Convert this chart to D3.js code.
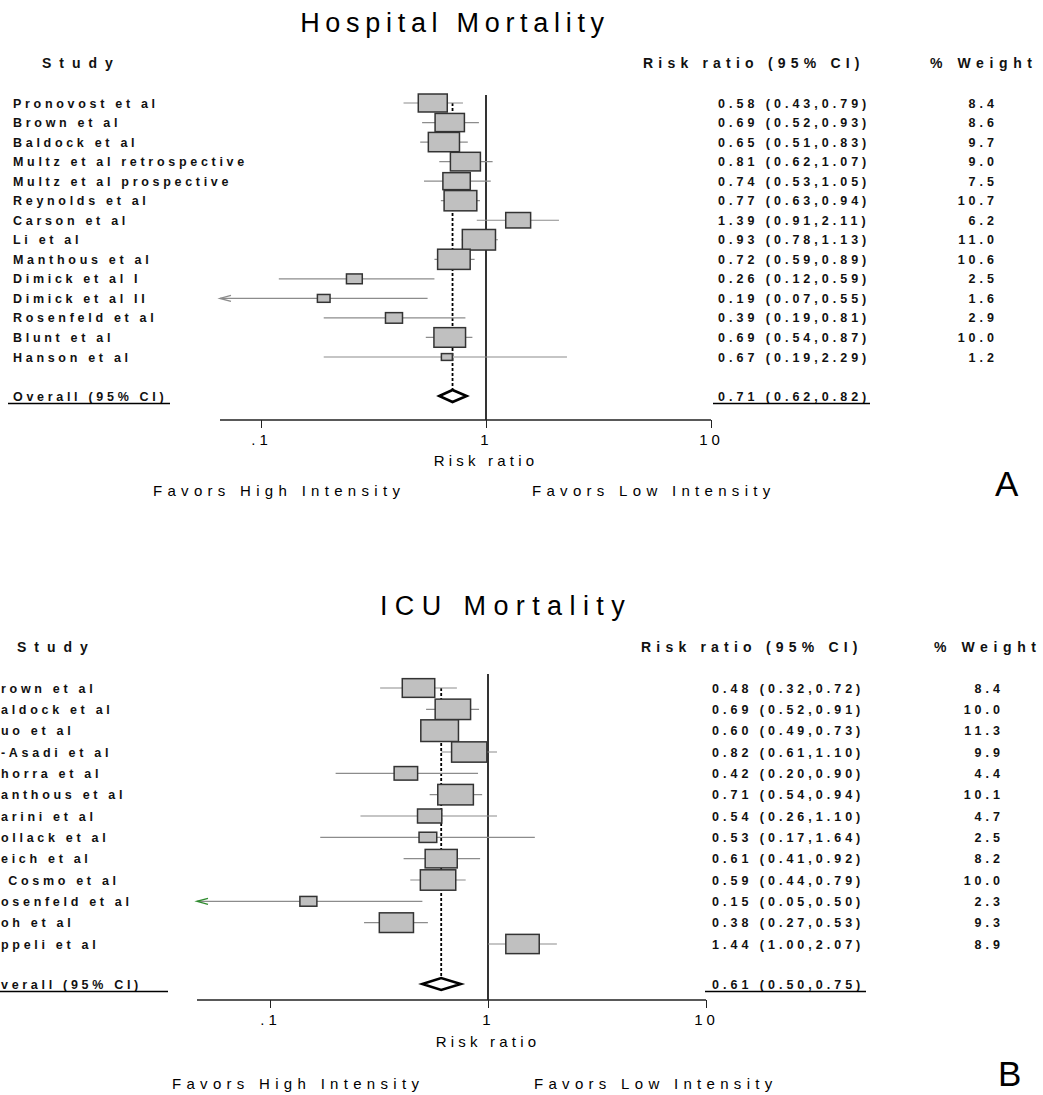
<!DOCTYPE html>
<html>
<head>
<meta charset="utf-8">
<script src="https://cdn.jsdelivr.net/npm/d3@7/dist/d3.min.js"></script>
<style>
  html, body { margin: 0; padding: 0; background: #fff; }
  svg { display: block; font-family: "Liberation Sans", Arial, Helvetica, sans-serif; }
</style>
</head>
<body>
<svg id="chart" width="1043" height="1095"></svg>
<script>
// ---------- DATA ----------
const hospStudies = ["Pronovost et al", "Brown et al", "Baldock et al", "Multz et al retrospective",
  "Multz et al prospective", "Reynolds et al", "Carson et al", "Li et al", "Manthous et al",
  "Dimick et al I", "Dimick et al II", "Rosenfeld et al", "Blunt et al", "Hanson et al"];
const hospRR = [0.58, 0.69, 0.65, 0.81, 0.74, 0.77, 1.39, 0.93, 0.72, 0.26, 0.19, 0.39, 0.69, 0.67];
const hospLo = [0.43, 0.52, 0.51, 0.62, 0.53, 0.63, 0.91, 0.78, 0.59, 0.12, 0.07, 0.19, 0.54, 0.19];
const hospHi = [0.79, 0.93, 0.83, 1.07, 1.05, 0.94, 2.11, 1.13, 0.89, 0.59, 0.55, 0.81, 0.87, 2.29];
const hospWt = [8.4, 8.6, 9.7, 9.0, 7.5, 10.7, 6.2, 11.0, 10.6, 2.5, 1.6, 2.9, 10.0, 1.2];
const hospOverall = [0.71, 0.62, 0.82];

// ICU study names are cut off at the left edge of the original picture
const icuStudies = ["rown et al", "aldock et al", "uo et al", "-Asadi et al", "horra et al",
  "anthous et al", "arini et al", "ollack et al", "eich et al", " Cosmo et al",
  "osenfeld et al", "oh et al", "ppeli et al"];
const icuRR = [0.48, 0.69, 0.60, 0.82, 0.42, 0.71, 0.54, 0.53, 0.61, 0.59, 0.15, 0.38, 1.44];
const icuLo = [0.32, 0.52, 0.49, 0.61, 0.20, 0.54, 0.26, 0.17, 0.41, 0.44, 0.05, 0.27, 1.00];
const icuHi = [0.72, 0.91, 0.73, 1.10, 0.90, 0.94, 1.10, 1.64, 0.92, 0.79, 0.50, 0.53, 2.07];
const icuWt = [8.4, 10.0, 11.3, 9.9, 4.4, 10.1, 4.7, 2.5, 8.2, 10.0, 2.3, 9.3, 8.9];
const icuOverall = [0.61, 0.50, 0.75];

const tickValues = [0.1, 1, 10];
const tickLabels = [".1", "1", "10"];

// ---------- LAYOUT ----------
const panels = [
  {
    title: "Hospital Mortality", titleX: 455, titleY: 32, titleLS: 5.7,
    overallLabel: "Overall (95% CI)",
    studies: hospStudies, rr: hospRR, lo: hospLo, hi: hospHi, wt: hospWt, overall: hospOverall,
    headY: 68, studyHeadX: 42, rrHeadX: 643, wtHeadX: 930,
    labelX: 13, valX: 718, wtX: 998,
    row0: 103, rowN: 357, overallY: 396,
    xTick01: 261, xTick10: 711, axisStart: 220, axisY: 420, refTop: 95,
    clipLo: 0.08,
    boxW: 10, boxH: 6.2,
    axisTitleY: 466, favorY: 496, favHighX: 153, favLowX: 532,
    letter: "A", letterX: 995, letterY: 496, arrowColor: "#8c8c8c",
    ulLabel: [8, 170], ulVal: [713, 870]
  },
  {
    title: "ICU Mortality", titleX: 506, titleY: 615, titleLS: 7.4,
    overallLabel: "verall (95% CI)",
    studies: icuStudies, rr: icuRR, lo: icuLo, hi: icuHi, wt: icuWt, overall: icuOverall,
    headY: 652, studyHeadX: 17, rrHeadX: 641, wtHeadX: 934,
    labelX: 1, valX: 712, wtX: 1004,
    row0: 688, rowN: 944, overallY: 984,
    xTick01: 270, xTick10: 706, axisStart: 197, axisY: 1000, refTop: 674,
    clipLo: 0.06,
    boxW: 11.2, boxH: 6.45,
    axisTitleY: 1047, favorY: 1089, favHighX: 172, favLowX: 534,
    letter: "B", letterX: 998, letterY: 1086, arrowColor: "#2e8b2e",
    ulLabel: [0, 168], ulVal: [705, 866]
  }
];

const svg = d3.select("#chart");

function drawPanel(p) {
  const g = svg.append("g");
  const n = p.studies.length;
  const x = d3.scaleLog().domain([0.1, 10]).range([p.xTick01, p.xTick10]);
  const y = d3.scaleLinear().domain([0, n - 1]).range([p.row0, p.rowN]);
  const wS = d3.scaleSqrt().domain([0, 1]).range([0, p.boxW]);
  const hS = d3.scaleSqrt().domain([0, 1]).range([0, p.boxH]);
  const xMin = x.invert(p.axisStart);

  // title
  g.append("text").attr("x", p.titleX).attr("y", p.titleY)
    .attr("text-anchor", "middle").attr("font-size", 27)
    .attr("letter-spacing", p.titleLS).attr("fill", "#000").text(p.title);

  // headers
  const head = (txt, xx, ls) => g.append("text").attr("x", xx).attr("y", p.headY)
    .attr("font-size", 14).attr("font-weight", "bold").attr("letter-spacing", ls)
    .attr("fill", "#111").text(txt);
  head("Study", p.studyHeadX, 8);
  head("Risk ratio (95% CI)", p.rrHeadX, 5.2);
  head("% Weight", p.wtHeadX, 5.6);

  // reference line at 1
  g.append("line").attr("x1", x(1)).attr("x2", x(1))
    .attr("y1", p.refTop).attr("y2", p.axisY)
    .attr("stroke", "#000").attr("stroke-width", 1.6);

  // dashed overall line
  g.append("line").attr("x1", x(p.overall[0])).attr("x2", x(p.overall[0]))
    .attr("y1", p.row0).attr("y2", p.overallY)
    .attr("stroke", "#000").attr("stroke-width", 1.8).attr("stroke-dasharray", "3,2");

  const rows = d3.range(n);
  const clipped = i => p.lo[i] < p.clipLo;

  // CI lines
  g.selectAll(".ci").data(rows).enter().append("line")
    .attr("x1", i => clipped(i) ? p.axisStart : x(Math.max(p.lo[i], xMin)))
    .attr("x2", i => x(p.hi[i]))
    .attr("y1", i => y(i)).attr("y2", i => y(i))
    .attr("stroke", "#8c8c8c").attr("stroke-width", 1.2);

  // arrows for truncated CIs
  rows.filter(clipped).forEach(i => {
    const ax = p.axisStart, ay = y(i);
    g.append("path")
      .attr("d", `M${ax + 11},${ay - 3}L${ax},${ay}L${ax + 11},${ay + 3}`)
      .attr("fill", "none").attr("stroke", p.arrowColor).attr("stroke-width", 1.4);
  });

  // boxes
  g.selectAll(".box").data(rows).enter().append("rect")
    .attr("x", i => x(p.rr[i]) - wS(p.wt[i]) / 2)
    .attr("y", i => y(i) - hS(p.wt[i]) / 2)
    .attr("width", i => wS(p.wt[i]))
    .attr("height", i => hS(p.wt[i]))
    .attr("fill", "#c0c0c0").attr("stroke", "#333").attr("stroke-width", 1.5);

  // diamond
  const oy = p.overallY;
  g.append("path")
    .attr("d", `M${x(p.overall[1])},${oy}L${x(p.overall[0])},${oy - 6}L${x(p.overall[2])},${oy}L${x(p.overall[0])},${oy + 6}Z`)
    .attr("fill", "#fff").attr("stroke", "#000").attr("stroke-width", 2.6);

  // row text
  const small = sel => sel.attr("font-size", 12.5).attr("font-weight", "bold")
    .attr("letter-spacing", 3.7).attr("fill", "#111").attr("dy", "0.36em");
  const fmt = d3.format(".2f");
  g.selectAll(".lab").data(rows).enter().append("text")
    .attr("x", p.labelX).attr("y", i => y(i)).call(small)
    .attr("xml:space", "preserve").text(i => p.studies[i]);
  g.selectAll(".val").data(rows).enter().append("text")
    .attr("x", p.valX).attr("y", i => y(i)).call(small).attr("letter-spacing", 4)
    .text(i => `${fmt(p.rr[i])} (${fmt(p.lo[i])},${fmt(p.hi[i])})`);
  g.selectAll(".wt").data(rows).enter().append("text")
    .attr("x", p.wtX).attr("y", i => y(i)).attr("text-anchor", "end").call(small).attr("letter-spacing", 4)
    .text(i => d3.format(".1f")(p.wt[i]));

  // overall texts with underline
  g.append("text").attr("x", p.labelX).attr("y", oy).call(small).text(p.overallLabel);
  g.append("text").attr("x", p.valX).attr("y", oy).call(small).attr("letter-spacing", 4)
    .text(`${fmt(p.overall[0])} (${fmt(p.overall[1])},${fmt(p.overall[2])})`);
  [p.ulLabel, p.ulVal].forEach(u => g.append("line")
    .attr("x1", u[0]).attr("x2", u[1]).attr("y1", oy + 7.5).attr("y2", oy + 7.5)
    .attr("stroke", "#000").attr("stroke-width", 1.5));

  // axis
  g.append("line").attr("x1", p.axisStart).attr("x2", x(10))
    .attr("y1", p.axisY).attr("y2", p.axisY)
    .attr("stroke", "#222").attr("stroke-width", 1.3);
  const axis = d3.axisBottom(x).tickValues(tickValues)
    .tickFormat((d, i) => tickLabels[i]).tickSize(8).tickPadding(6);
  const ag = g.append("g").attr("transform", `translate(0,${p.axisY})`).call(axis);
  ag.select(".domain").remove();
  ag.selectAll(".tick line").attr("stroke", "#222").attr("stroke-width", 1);
  ag.selectAll(".tick text").attr("font-size", 15).attr("letter-spacing", 4)
    .attr("fill", "#000").attr("font-family", "Liberation Sans, Arial, sans-serif");

  g.append("text").attr("x", x(1)).attr("y", p.axisTitleY).attr("text-anchor", "middle")
    .attr("font-size", 15).attr("letter-spacing", 4.2).attr("fill", "#000").text("Risk ratio");
  const fav = (txt, xx) => g.append("text").attr("x", xx).attr("y", p.favorY)
    .attr("font-size", 15).attr("letter-spacing", 5.3).attr("fill", "#000").text(txt);
  fav("Favors High Intensity", p.favHighX);
  fav("Favors Low Intensity", p.favLowX);

  g.append("text").attr("x", p.letterX).attr("y", p.letterY)
    .attr("font-size", 35).attr("fill", "#000").text(p.letter);
}

panels.forEach(drawPanel);
</script>
</body>
</html>
